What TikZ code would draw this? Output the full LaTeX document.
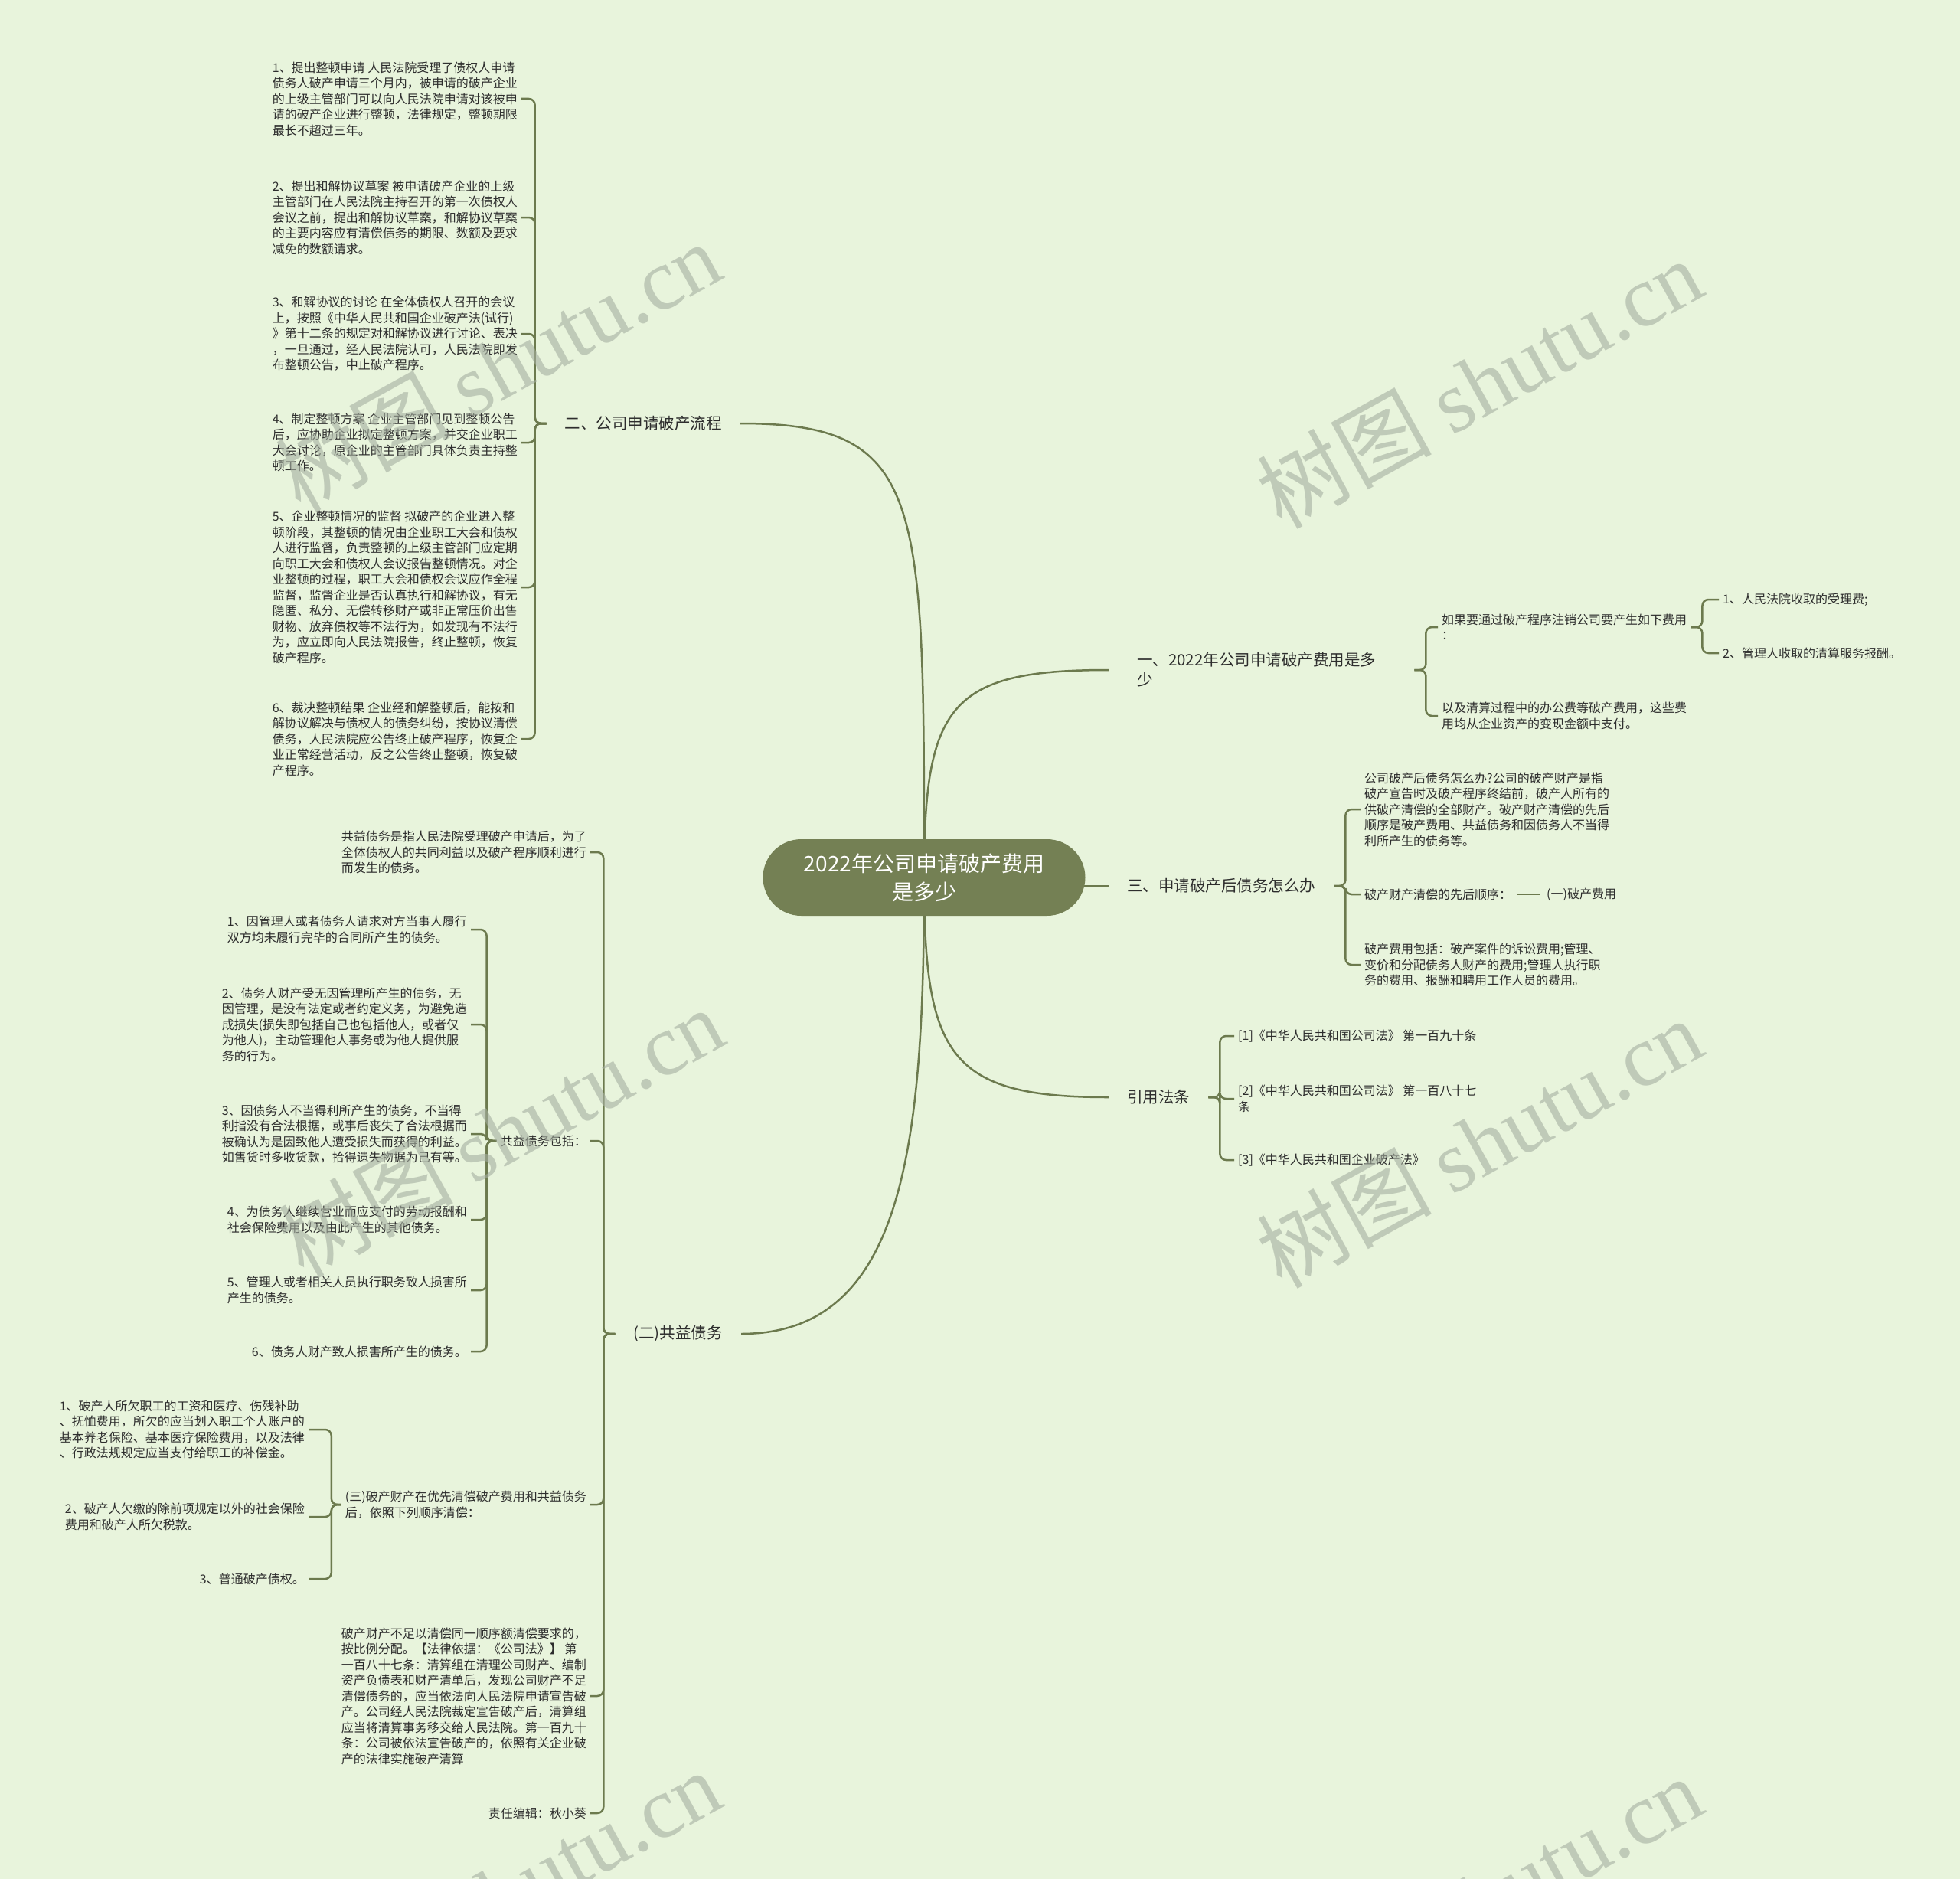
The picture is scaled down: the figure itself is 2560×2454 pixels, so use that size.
\documentclass[tikz,border=0pt]{standalone}
\usepackage{fontspec}
\setmainfont{Noto Sans CJK SC}
\newfontfamily\wmserif{Liberation Serif}
\newfontfamily\wmcjk{Noto Sans CJK SC}
\definecolor{bgc}{RGB}{232,244,220}
\definecolor{edgec}{RGB}{108,122,78}
\definecolor{rootc}{RGB}{116,128,84}
\definecolor{txt}{RGB}{45,45,45}
\definecolor{wm}{RGB}{165,175,160}
\pgfdeclarelayer{bgl}
\pgfdeclarelayer{edgel}
\pgfsetlayers{bgl,edgel,main}
\tikzset{
  leaf/.style={font=\fontsize{16}{20.5}\selectfont, text=txt, align=left, inner xsep=5pt, inner ysep=2pt},
  branch/.style={font=\fontsize{20.5}{26}\selectfont, text=txt, align=left, inner xsep=24pt, inner ysep=3pt},
  rootnode/.style={rounded corners=50pt, fill=rootc, minimum width=421pt, minimum height=100pt, text=white, font=\fontsize{28}{37}\selectfont, align=center, inner sep=0pt},
  edge/.style={draw=edgec, line width=2.5pt},
  brace/.style={edge, rounded corners=8pt},
  wmark/.style={rotate=29, text=wm, opacity=0.6, inner sep=0pt, font=\fontsize{114}{120}\selectfont},
}
\begin{document}
\begin{tikzpicture}[x=1pt, y=-1pt]
\begin{pgfonlayer}{bgl}
\fill[bgc] (0,0) rectangle (2560,2454);
\end{pgfonlayer}
\useasboundingbox (0,0) rectangle (2560,2454);

% root and main branches
\node[rootnode] (root) at (1207,1146) {2022年公司申请破产费用\\是多少};
\node[branch, anchor=east] (b2) at (967,553) {二、公司申请破产流程};
\node[branch, anchor=east] (bg) at (968,1742) {(二)共益债务};
\node[branch, anchor=west, text width=338pt] (b1) at (1461,875) {一、2022年公司申请破产费用是多\\少};
\node[branch, anchor=west] (b3) at (1448,1157) {三、申请破产后债务怎么办};
\node[branch, anchor=west] (b4) at (1448,1433) {引用法条};

% branch 二
\node[leaf, anchor=east] (p1) at (681,129) {1、提出整顿申请 人民法院受理了债权人申请\\债务人破产申请三个月内，被申请的破产企业\\的上级主管部门可以向人民法院申请对该被申\\请的破产企业进行整顿，法律规定，整顿期限\\最长不超过三年。};
\node[leaf, anchor=east] (p2) at (681,284) {2、提出和解协议草案 被申请破产企业的上级\\主管部门在人民法院主持召开的第一次债权人\\会议之前，提出和解协议草案，和解协议草案\\的主要内容应有清偿债务的期限、数额及要求\\减免的数额请求。};
\node[leaf, anchor=east] (p3) at (681,436) {3、和解协议的讨论 在全体债权人召开的会议\\上，按照《中华人民共和国企业破产法(试行)\\》第十二条的规定对和解协议进行讨论、表决\\，一旦通过，经人民法院认可，人民法院即发\\布整顿公告，中止破产程序。};
\node[leaf, anchor=east] (p4) at (681,578) {4、制定整顿方案 企业主管部门见到整顿公告\\后，应协助企业拟定整顿方案，并交企业职工\\大会讨论，原企业的主管部门具体负责主持整\\顿工作。};
\node[leaf, anchor=east] (p5) at (681,767) {5、企业整顿情况的监督 拟破产的企业进入整\\顿阶段，其整顿的情况由企业职工大会和债权\\人进行监督，负责整顿的上级主管部门应定期\\向职工大会和债权人会议报告整顿情况。对企\\业整顿的过程，职工大会和债权会议应作全程\\监督，监督企业是否认真执行和解协议，有无\\隐匿、私分、无偿转移财产或非正常压价出售\\财物、放弃债权等不法行为，如发现有不法行\\为，应立即向人民法院报告，终止整顿，恢复\\破产程序。};
\node[leaf, anchor=east] (p6) at (681,965) {6、裁决整顿结果 企业经和解整顿后，能按和\\解协议解决与债权人的债务纠纷，按协议清偿\\债务，人民法院应公告终止破产程序，恢复企\\业正常经营活动，反之公告终止整顿，恢复破\\产程序。};

% branch (二)共益债务
\node[leaf, anchor=east] (ga) at (771,1113) {共益债务是指人民法院受理破产申请后，为了\\全体债权人的共同利益以及破产程序顺利进行\\而发生的债务。};
\node[leaf, anchor=east] (q0) at (771,1490) {共益债务包括：};
\node[leaf, anchor=east] (q1) at (615,1214) {1、因管理人或者债务人请求对方当事人履行\\双方均未履行完毕的合同所产生的债务。};
\node[leaf, anchor=east] (q2) at (615,1338) {2、债务人财产受无因管理所产生的债务，无\\因管理，是没有法定或者约定义务，为避免造\\成损失(损失即包括自己也包括他人，或者仅\\为他人)，主动管理他人事务或为他人提供服\\务的行为。};
\node[leaf, anchor=east] (q3) at (615,1481) {3、因债务人不当得利所产生的债务，不当得\\利指没有合法根据，或事后丧失了合法根据而\\被确认为是因致他人遭受损失而获得的利益。\\如售货时多收货款，拾得遗失物据为己有等。};
\node[leaf, anchor=east] (q4) at (615,1593) {4、为债务人继续营业而应支付的劳动报酬和\\社会保险费用以及由此产生的其他债务。};
\node[leaf, anchor=east] (q5) at (615,1685) {5、管理人或者相关人员执行职务致人损害所\\产生的债务。};
\node[leaf, anchor=east] (q6) at (615,1765) {6、债务人财产致人损害所产生的债务。};
\node[leaf, anchor=east] (r0) at (771,1965) {(三)破产财产在优先清偿破产费用和共益债务\\后，依照下列顺序清偿：};
\node[leaf, anchor=east] (r1) at (403,1867) {1、破产人所欠职工的工资和医疗、伤残补助\\、抚恤费用，所欠的应当划入职工个人账户的\\基本养老保险、基本医疗保险费用，以及法律\\、行政法规规定应当支付给职工的补偿金。};
\node[leaf, anchor=east] (r2) at (403,1981) {2、破产人欠缴的除前项规定以外的社会保险\\费用和破产人所欠税款。};
\node[leaf, anchor=east] (r3) at (403,2062) {3、普通破产债权。};
\node[leaf, anchor=east] (gd) at (771,2215) {破产财产不足以清偿同一顺序额清偿要求的，\\按比例分配。【法律依据：《公司法》】 第\\一百八十七条：清算组在清理公司财产、编制\\资产负债表和财产清单后，发现公司财产不足\\清偿债务的，应当依法向人民法院申请宣告破\\产。公司经人民法院裁定宣告破产后，清算组\\应当将清算事务移交给人民法院。第一百九十\\条：公司被依法宣告破产的，依照有关企业破\\产的法律实施破产清算};
\node[leaf, anchor=east] (ge) at (771,2368) {责任编辑：秋小葵};

% branch 一
\node[leaf, anchor=west] (u1) at (1878,819) {如果要通过破产程序注销公司要产生如下费用\\：};
\node[leaf, anchor=west] (u2) at (1878,935) {以及清算过程中的办公费等破产费用，这些费\\用均从企业资产的变现金额中支付。};
\node[leaf, anchor=west] (u1a) at (2245,783) {1、人民法院收取的受理费;};
\node[leaf, anchor=west] (u1b) at (2245,853) {2、管理人收取的清算服务报酬。};

% branch 三
\node[leaf, anchor=west] (v1) at (1777,1057) {公司破产后债务怎么办?公司的破产财产是指\\破产宣告时及破产程序终结前，破产人所有的\\供破产清偿的全部财产。破产财产清偿的先后\\顺序是破产费用、共益债务和因债务人不当得\\利所产生的债务等。};
\node[leaf, anchor=west] (v2) at (1777,1168) {破产财产清偿的先后顺序：};
\node[leaf, anchor=west] (v2a) at (2015,1168) {(一)破产费用};
\node[leaf, anchor=west] (v3) at (1777,1260) {破产费用包括：破产案件的诉讼费用;管理、\\变价和分配债务人财产的费用;管理人执行职\\务的费用、报酬和聘用工作人员的费用。};

% branch 引用法条
\node[leaf, anchor=west] (w1) at (1612,1353) {[1]《中华人民共和国公司法》 第一百九十条};
\node[leaf, anchor=west] (w2) at (1612,1435) {[2]《中华人民共和国公司法》 第一百八十七\\条};
\node[leaf, anchor=west] (w3) at (1612,1515) {[3]《中华人民共和国企业破产法》};

\begin{pgfonlayer}{edgel}
\draw[edge] (root.center) .. controls +(0,-496) and +(241,0) .. (b2.east);
\draw[edge] (root.center) .. controls +(0,354) and +(212,0) .. (bg.east);
\draw[edge, shorten >=13pt] (root.center) .. controls +(0,-226) and +(-221,0) .. (b1.west);
\draw[edge] (root.center |- b3.west) -- (b3.west);
\draw[edge] (root.center) .. controls +(0,234) and +(-208,0) .. (b4.west);
\foreach \nd in {p1,p2,p3,p4,p5,p6} \draw[brace] (b2.west) -- ++(-15,0) |- (\nd.east);
\foreach \nd in {ga,q0,r0,gd,ge} \draw[brace] (bg.west) -- ++(-15,0) |- (\nd.east);
\foreach \nd in {q1,q2,q3,q4,q5,q6} \draw[brace] (q0.west) -- ++(-13,0) |- (\nd.east);
\foreach \nd in {r1,r2,r3} \draw[brace] (r0.west) -- ++(-13,0) |- (\nd.east);
\foreach \nd in {u1,u2} \draw[brace] (b1.east) -- ++(15,0) |- (\nd.west);
\foreach \nd in {u1a,u1b} \draw[brace] (u1.east) -- ++(15,0) |- (\nd.west);
\foreach \nd in {v1,v2,v3} \draw[brace] (b3.east) -- ++(15,0) |- (\nd.west);
\draw[edge, shorten <=3pt, shorten >=4pt] (v2.east) -- (v2a.west);
\foreach \nd in {w1,w2,w3} \draw[brace] (b4.east) -- ++(15,0) |- (\nd.west);
\end{pgfonlayer}

% watermarks
\node[wmark] (wm1) at (650,478) {{\wmcjk 树图} {\wmserif shutu.cn}};
\node[wmark] (wm2) at (1932,500) {{\wmcjk 树图} {\wmserif shutu.cn}};
\node[wmark] (wm3) at (654,1478) {{\wmcjk 树图} {\wmserif shutu.cn}};
\node[wmark] (wm4) at (1932,1492) {{\wmcjk 树图} {\wmserif shutu.cn}};
\node[wmark] (wm5) at (650,2474) {{\wmcjk 树图} {\wmserif shutu.cn}};
\node[wmark] (wm6) at (1932,2482) {{\wmcjk 树图} {\wmserif shutu.cn}};
\end{tikzpicture}
\end{document}
